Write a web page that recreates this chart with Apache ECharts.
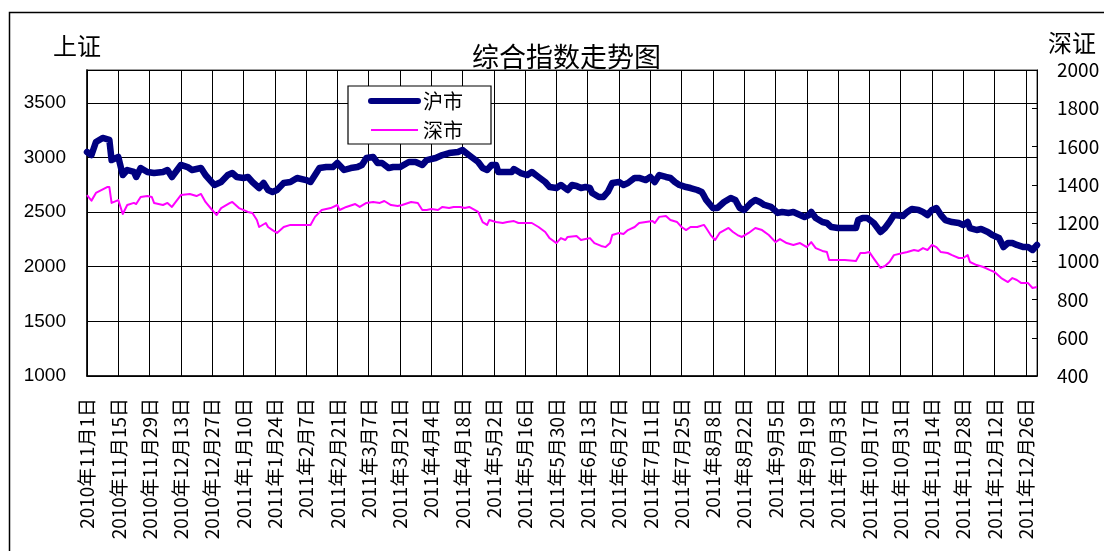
<!DOCTYPE html>
<html>
<head>
<meta charset="utf-8">
<script src="https://cdn.jsdelivr.net/npm/echarts@6/dist/echarts.min.js"></script>
<style>html,body{margin:0;padding:0;background:#fff}#c{width:1104px;height:551px}</style>
</head>
<body>
<div id="c"></div>
<script>
// ---- data ----
const axisStart = '2010-11-01';
const axisEnd = '2011-12-31';
const shDates = ['2010-11-01','2010-11-03','2010-11-05','2010-11-08','2010-11-11','2010-11-12','2010-11-15','2010-11-17','2010-11-19','2010-11-22','2010-11-23','2010-11-25','2010-11-28','2010-12-01','2010-12-05','2010-12-07','2010-12-09','2010-12-13','2010-12-16','2010-12-18','2010-12-22','2010-12-24','2010-12-26','2010-12-28','2010-12-31','2011-01-03','2011-01-05','2011-01-07','2011-01-10','2011-01-12','2011-01-14','2011-01-17','2011-01-19','2011-01-21','2011-01-23','2011-01-25','2011-01-28','2011-01-31','2011-02-03','2011-02-07','2011-02-09','2011-02-11','2011-02-13','2011-02-16','2011-02-19','2011-02-21','2011-02-24','2011-02-27','2011-03-02','2011-03-04','2011-03-06','2011-03-09','2011-03-11','2011-03-13','2011-03-16','2011-03-18','2011-03-21','2011-03-25','2011-03-28','2011-03-31','2011-04-02','2011-04-06','2011-04-09','2011-04-12','2011-04-16','2011-04-18','2011-04-19','2011-04-22','2011-04-25','2011-04-27','2011-04-29','2011-05-01','2011-05-03','2011-05-04','2011-05-07','2011-05-10','2011-05-11','2011-05-14','2011-05-17','2011-05-19','2011-05-22','2011-05-25','2011-05-27','2011-05-30','2011-06-01','2011-06-04','2011-06-06','2011-06-08','2011-06-10','2011-06-12','2011-06-14','2011-06-15','2011-06-18','2011-06-20','2011-06-22','2011-06-24','2011-06-27','2011-06-29','2011-07-01','2011-07-04','2011-07-06','2011-07-09','2011-07-11','2011-07-13','2011-07-15','2011-07-18','2011-07-20','2011-07-22','2011-07-24','2011-07-27','2011-07-29','2011-08-01','2011-08-03','2011-08-04','2011-08-05','2011-08-08','2011-08-10','2011-08-13','2011-08-16','2011-08-18','2011-08-20','2011-08-22','2011-08-25','2011-08-27','2011-08-29','2011-08-31','2011-09-03','2011-09-06','2011-09-08','2011-09-11','2011-09-13','2011-09-16','2011-09-18','2011-09-20','2011-09-21','2011-09-23','2011-09-26','2011-09-28','2011-09-30','2011-10-03','2011-10-06','2011-10-09','2011-10-11','2011-10-12','2011-10-14','2011-10-16','2011-10-19','2011-10-22','2011-10-24','2011-10-26','2011-10-28','2011-11-01','2011-11-03','2011-11-05','2011-11-08','2011-11-10','2011-11-12','2011-11-14','2011-11-16','2011-11-18','2011-11-20','2011-11-23','2011-11-26','2011-11-28','2011-11-30','2011-12-01','2011-12-04','2011-12-06','2011-12-09','2011-12-11','2011-12-14','2011-12-16','2011-12-18','2011-12-20','2011-12-22','2011-12-25','2011-12-27','2011-12-29','2011-12-31'];
const shValues = [3050,3022,3141,3178,3160,2976,3004,2839,2885,2867,2821,2903,2867,2857,2867,2885,2821,2931,2912,2885,2903,2839,2793,2748,2775,2839,2857,2821,2812,2821,2775,2720,2766,2702,2684,2702,2766,2775,2812,2793,2775,2839,2903,2912,2912,2949,2885,2903,2912,2931,2995,3004,2949,2949,2903,2912,2912,2958,2958,2931,2976,2995,3022,3040,3050,3068,3050,3004,2958,2903,2885,2931,2931,2867,2867,2867,2894,2857,2839,2867,2821,2775,2729,2720,2748,2702,2748,2739,2720,2729,2720,2674,2638,2638,2684,2766,2775,2748,2766,2812,2812,2793,2821,2775,2839,2821,2812,2775,2748,2729,2720,2702,2684,2650,2611,2537,2537,2592,2629,2611,2537,2519,2583,2611,2592,2565,2547,2492,2501,2492,2501,2473,2455,2473,2501,2446,2409,2400,2363,2354,2354,2354,2354,2427,2446,2446,2400,2318,2354,2409,2473,2464,2501,2528,2519,2501,2473,2519,2537,2473,2427,2409,2400,2382,2409,2354,2336,2345,2318,2290,2263,2180,2217,2217,2199,2180,2180,2153,2199];
const szDates = ['2010-11-01','2010-11-03','2010-11-05','2010-11-10','2010-11-11','2010-11-12','2010-11-15','2010-11-17','2010-11-19','2010-11-22','2010-11-23','2010-11-25','2010-11-28','2010-11-30','2010-12-01','2010-12-05','2010-12-07','2010-12-09','2010-12-13','2010-12-17','2010-12-20','2010-12-22','2010-12-24','2010-12-27','2010-12-29','2010-12-31','2011-01-04','2011-01-05','2011-01-08','2011-01-12','2011-01-14','2011-01-16','2011-01-17','2011-01-20','2011-01-21','2011-01-23','2011-01-25','2011-01-28','2011-01-31','2011-02-04','2011-02-09','2011-02-11','2011-02-14','2011-02-18','2011-02-21','2011-02-22','2011-02-25','2011-03-01','2011-03-03','2011-03-06','2011-03-09','2011-03-12','2011-03-14','2011-03-17','2011-03-20','2011-03-22','2011-03-26','2011-03-29','2011-03-31','2011-04-02','2011-04-04','2011-04-07','2011-04-09','2011-04-12','2011-04-14','2011-04-17','2011-04-19','2011-04-21','2011-04-25','2011-04-27','2011-04-29','2011-04-30','2011-05-03','2011-05-06','2011-05-08','2011-05-11','2011-05-13','2011-05-17','2011-05-19','2011-05-22','2011-05-25','2011-05-27','2011-05-30','2011-06-01','2011-06-03','2011-06-04','2011-06-08','2011-06-10','2011-06-12','2011-06-14','2011-06-16','2011-06-19','2011-06-21','2011-06-23','2011-06-24','2011-06-27','2011-06-29','2011-07-01','2011-07-04','2011-07-06','2011-07-09','2011-07-12','2011-07-13','2011-07-15','2011-07-18','2011-07-20','2011-07-23','2011-07-25','2011-07-27','2011-07-29','2011-08-01','2011-08-04','2011-08-05','2011-08-07','2011-08-09','2011-08-11','2011-08-15','2011-08-17','2011-08-19','2011-08-21','2011-08-24','2011-08-27','2011-08-30','2011-09-02','2011-09-05','2011-09-07','2011-09-10','2011-09-13','2011-09-16','2011-09-19','2011-09-21','2011-09-23','2011-09-26','2011-09-28','2011-09-29','2011-10-03','2011-10-06','2011-10-11','2011-10-13','2011-10-15','2011-10-17','2011-10-19','2011-10-22','2011-10-24','2011-10-26','2011-10-28','2011-11-01','2011-11-03','2011-11-06','2011-11-08','2011-11-10','2011-11-12','2011-11-14','2011-11-16','2011-11-18','2011-11-21','2011-11-23','2011-11-26','2011-11-28','2011-11-30','2011-12-01','2011-12-04','2011-12-07','2011-12-10','2011-12-12','2011-12-15','2011-12-18','2011-12-20','2011-12-22','2011-12-24','2011-12-27','2011-12-29','2011-12-31'];
const szValues = [1346,1317,1357,1388,1388,1305,1320,1247,1294,1305,1299,1336,1341,1336,1305,1294,1305,1284,1346,1352,1341,1352,1310,1268,1242,1278,1305,1310,1278,1258,1252,1216,1179,1200,1179,1163,1148,1179,1190,1190,1190,1232,1268,1278,1294,1268,1284,1299,1284,1305,1310,1305,1315,1294,1289,1294,1310,1305,1268,1268,1273,1268,1284,1278,1284,1284,1278,1284,1258,1205,1190,1216,1205,1200,1205,1210,1200,1200,1200,1179,1153,1120,1095,1121,1111,1127,1132,1111,1116,1121,1095,1080,1074,1095,1137,1148,1142,1163,1179,1200,1205,1210,1200,1232,1237,1216,1205,1179,1163,1179,1179,1190,1174,1137,1111,1148,1174,1153,1137,1127,1148,1174,1163,1137,1100,1116,1095,1085,1095,1074,1100,1069,1054,1048,1006,1006,1006,1001,1043,1043,1048,1014,965,975,996,1032,1043,1048,1059,1054,1069,1059,1085,1074,1048,1043,1032,1017,1017,1032,996,980,970,954,944,912,891,912,902,886,886,860,865];
const seriesNames = ['沪市', '深市'];
const leftTicks = {min: 1000, max: 3800, step: 500};
const rightTicks = {min: 400, max: 2000, step: 200};

// ---- build category axis of calendar days ----
const DAY = 86400000;
const t0 = Date.parse(axisStart), t1 = Date.parse(axisEnd);
const categories = [];
for (let t = t0; t <= t1; t += DAY) {
  const d = new Date(t);
  categories.push(d.getUTCFullYear() + '年' + (d.getUTCMonth() + 1) + '月' + d.getUTCDate() + '日');
}
const toIdx = s => Math.round((Date.parse(s) - t0) / DAY);
const shData = shDates.map((d, i) => [toIdx(d), shValues[i]]);
const szData = szDates.map((d, i) => [toIdx(d), szValues[i]]);

const chart = echarts.init(document.getElementById('c'), null, {renderer: 'canvas'});
const CJK = '"Noto Sans CJK SC", sans-serif';
const plain = v => String(v);
chart.setOption({
  animation: false,
  backgroundColor: '#ffffff',
  graphic: [
    {type: 'rect', silent: true, shape: {x: 9.5, y: 12.5, width: 1200, height: 700}, style: {fill: 'none', stroke: '#000', lineWidth: 1.5}},
    {type: 'text', left: 567 - 95, top: 43, style: {text: '综合指数走势图', font: '27px "Noto Sans CJK SC"', fill: '#000'}},
    {type: 'text', left: 53, top: 34, style: {text: '上证', font: '24px "Noto Sans CJK SC"', fill: '#000'}},
    {type: 'text', left: 1048, top: 31, style: {text: '深证', font: '24px "Noto Sans CJK SC"', fill: '#000'}}
  ],
  legend: {
    orient: 'vertical',
    left: 348, top: 86,
    padding: [4, 28, 3, 20],
    itemGap: 7,
    itemWidth: 47, itemHeight: 14,
    borderColor: '#000', borderWidth: 1.2,
    backgroundColor: '#fff',
    itemStyle: {opacity: 0},
    textStyle: {fontFamily: CJK, fontSize: 20, color: '#000', lineHeight: 22},
    data: [
      {name: seriesNames[0], itemStyle: {opacity: 0}, lineStyle: {width: 6, color: '#000080'}},
      {name: seriesNames[1], itemStyle: {opacity: 0}, lineStyle: {width: 2, color: '#ff00ff'}}
    ]
  },
  grid: {left: 87, right: 67, top: 70, bottom: 175, show: true, borderColor: '#808080', borderWidth: 1.5},
  xAxis: {
    type: 'category',
    boundaryGap: false,
    data: categories,
    axisLine: {lineStyle: {color: '#000', width: 1.5}},
    axisTick: {show: false},
    splitLine: {show: true, interval: 13, lineStyle: {color: '#000', width: 1}},
    axisLabel: {interval: 13, rotate: 90, margin: 22, fontFamily: CJK, fontSize: 19, color: '#000'}
  },
  yAxis: [
    {
      type: 'value', min: leftTicks.min, max: leftTicks.max, interval: leftTicks.step,
      axisLine: {show: true, lineStyle: {color: '#000', width: 1.5}},
      axisTick: {show: false},
      splitLine: {show: true, lineStyle: {color: '#000', width: 1}},
      axisLabel: {showMaxLabel: false, margin: 21, formatter: plain, fontFamily: '"Liberation Sans", Arial, sans-serif', fontSize: 19, color: '#000'}
    },
    {
      type: 'value', position: 'right', min: rightTicks.min, max: rightTicks.max, interval: rightTicks.step,
      axisLine: {show: true, lineStyle: {color: '#000', width: 1}},
      axisTick: {show: true, inside: true, length: 5, lineStyle: {color: '#000'}},
      splitLine: {show: false},
      axisLabel: {margin: 20, formatter: plain, fontFamily: CJK, fontSize: 19, color: '#000'}
    }
  ],
  series: [
    {
      name: seriesNames[0], type: 'line', yAxisIndex: 0, data: shData,
      showSymbol: false, symbol: 'none', z: 3,
      lineStyle: {color: '#000080', width: 6.5, cap: 'round', join: 'round'},
      itemStyle: {color: '#000080'}
    },
    {
      name: seriesNames[1], type: 'line', yAxisIndex: 1, data: szData,
      showSymbol: false, symbol: 'none', z: 2,
      lineStyle: {color: '#ff00ff', width: 2, join: 'round'},
      itemStyle: {color: '#ff00ff'}
    }
  ]
});
</script>
</body>
</html>
